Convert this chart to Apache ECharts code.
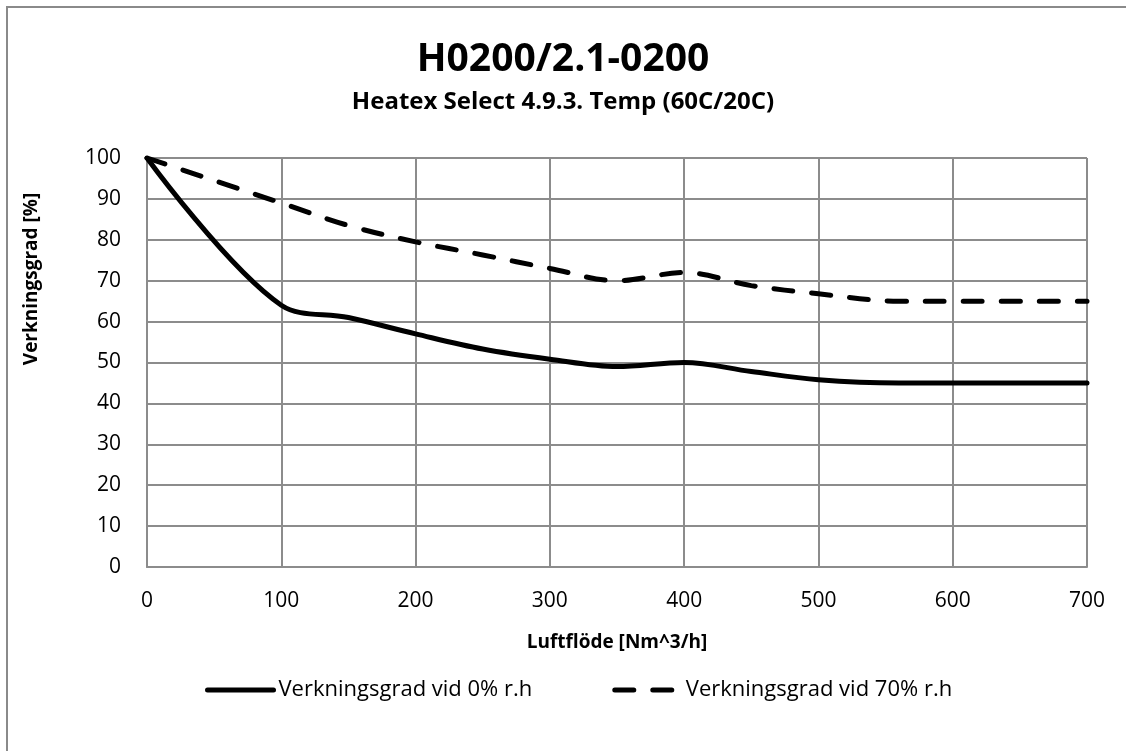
<!DOCTYPE html>
<html>
<head>
<meta charset="utf-8">
<script src="https://cdn.jsdelivr.net/npm/echarts@6/dist/echarts.min.js"></script>
<style>
html,body{margin:0;padding:0;background:#fff;}
#main{width:1126px;height:751px;}
</style>
</head>
<body>
<div id="main"></div>
<script>
var flows = [0, 100, 150, 200, 250, 300, 350, 400, 450, 500, 560, 600, 700];
var eff0 = [100, 64, 61, 57, 53.3, 50.8, 49, 50, 47.8, 45.8, 45, 45, 45];
var eff70 = [100, 89, 83.5, 79.5, 76.3, 73, 70, 72, 68.8, 66.8, 65, 65, 65];
var seriesNames = ['Verkningsgrad vid 0% r.h', 'Verkningsgrad vid 70% r.h'];
var titleText = 'H0200/2.1-0200';
var subtitleText = 'Heatex Select 4.9.3. Temp (60C/20C)';
var xName = 'Luftflöde [Nm^3/h]';
var yName = 'Verkningsgrad [%]';

function pairs(xs, ys) { return xs.map(function (x, i) { return [x, ys[i]]; }); }

var FONT = '"Open Sans", "DejaVu Sans", sans-serif';
var chart = echarts.init(document.getElementById('main'));
chart.setOption({
  backgroundColor: '#fff',
  animation: false,
  title: [
    { text: titleText, left: 'center', top: 35,
      textStyle: { fontFamily: FONT, fontSize: 39, fontWeight: 'bold', color: '#000' } },
    { text: subtitleText, left: 'center', top: 85,
      textStyle: { fontFamily: FONT, fontSize: 24, fontWeight: 'bold', color: '#000' } }
  ],
  graphic: [
    { type: 'rect', shape: { x: 7, y: 7, width: 1300, height: 900 }, silent: true,
      style: { fill: 'none', stroke: '#8a8a8a', lineWidth: 2 } },
    { type: 'text', x: 32, y: 279, rotation: Math.PI / 2,
      style: { text: yName, fontFamily: FONT, fontSize: 19, fontWeight: 'bold', fill: '#000',
               align: 'center', verticalAlign: 'middle' } }
  ],
  legend: {
    left: 200, top: 674,
    itemWidth: 66, itemHeight: 14, itemGap: 80,
    itemStyle: { opacity: 0 },
    lineStyle: { width: 5 },
    textStyle: { fontFamily: FONT, fontSize: 22, color: '#000' },
    data: seriesNames
  },
  grid: { left: 147, right: 39, top: 158, bottom: 184, containLabel: false },
  xAxis: {
    type: 'value', min: 0, max: 700, interval: 100,
    name: xName, nameLocation: 'middle', nameGap: 66,
    nameTextStyle: { fontFamily: FONT, fontSize: 19, fontWeight: 'bold', color: '#000' },
    axisLine: { show: true, lineStyle: { color: '#8c8c8c', width: 2 } },
    axisTick: { show: false },
    axisLabel: { fontFamily: FONT, fontSize: 21, color: '#000', margin: 24 },
    splitLine: { show: true, lineStyle: { color: '#8c8c8c', width: 2 } }
  },
  yAxis: {
    type: 'value', min: 0, max: 100, interval: 10,
    axisLine: { show: true, lineStyle: { color: '#8c8c8c', width: 2 } },
    axisTick: { show: false },
    axisLabel: { fontFamily: FONT, fontSize: 21, color: '#000', margin: 26 },
    splitLine: { show: true, lineStyle: { color: '#8c8c8c', width: 2 } }
  },
  series: [
    { name: seriesNames[0], type: 'line', data: pairs(flows, eff0), smooth: 0.35,
      symbol: 'none', lineStyle: { color: '#000', width: 5, cap: 'round' },
      itemStyle: { color: '#000' } },
    { name: seriesNames[1], type: 'line', data: pairs(flows, eff70), smooth: 0.35,
      symbol: 'none', lineStyle: { color: '#000', width: 5, type: [19, 19], cap: 'round' },
      itemStyle: { color: '#000' } }
  ]
});
</script>
</body>
</html>
